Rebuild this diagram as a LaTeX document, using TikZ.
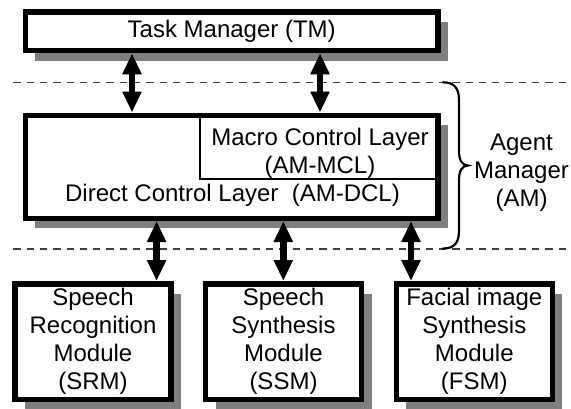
\documentclass[tikz,border=0pt]{standalone}
\usepackage{fontspec}
\setmainfont{Liberation Sans}
\usetikzlibrary{arrows.meta,shadows}
\definecolor{shadowgray}{HTML}{7F7F7F}
\definecolor{dashgray}{HTML}{404040}
\begin{document}
\begin{tikzpicture}[x=1pt,y=-1pt,
  every node/.style={font=\fontsize{24}{28}\selectfont},
  box/.style={draw, line width=5.5pt, fill=white, rectangle, inner sep=0pt,
    outer sep=2.75pt, align=center,
    drop shadow={shadow xshift=10pt, shadow yshift=-10pt, fill=shadowgray, opacity=1}},
  modbox/.style={box, minimum width=156pt, minimum height=115.8pt},
  wide/.style={box, minimum width=412.5pt},
  thinbox/.style={draw, line width=1.8pt, rectangle, inner sep=0pt, outer sep=0pt},
  label/.style={align=center, inner sep=0pt},
  dbl/.style={line width=6.7pt, {Triangle[width=18pt,length=21pt]}-{Triangle[width=18pt,length=21pt]}},
  dashline/.style={draw=dashgray, line width=1.2pt, dash pattern=on 7.3pt off 6pt},
  bracestyle/.style={line width=2.2pt, line cap=round}
]
\useasboundingbox (0,0) rectangle (571,408);

% dashed separators
\coordinate (d1l) at (13.3,82.3);
\coordinate (d1r) at (571,82.3);
\coordinate (d2l) at (13.3,249);
\coordinate (d2r) at (571,249);
\draw[dashline] (d1l) -- (d1r);
\draw[dashline] (d2l) -- (d2r);

% boxes
\node[wide, minimum height=38.5pt] (tm) at (231.7,31.3) {Task Manager (TM)};
\node[wide, minimum height=103pt] (dcl) at (231.7,166.75) {};
\node[thinbox, minimum width=238.3pt, minimum height=64.1pt] (mcl) at (319,147.3) {};
\node[label] (mcltext) at (320,152.8) {Macro Control Layer\\(AM-MCL)};
\node[label, anchor=base] (dcltext) at (232.5,201) {Direct Control Layer\ \ (AM-DCL)};

\node[modbox] (srm) at (93,341.65) {Speech\\Recognition\\Module\\(SRM)};
\node[modbox] (ssm) at (283.5,341.65) {Speech\\Synthesis\\Module\\(SSM)};
\node[modbox] (fsm) at (474.3,341.65) {Facial image\\Synthesis\\Module\\(FSM)};

% arrow columns
\coordinate (a1) at (132,0);
\coordinate (a2) at (320,0);
\coordinate (b1) at (156.6,0);
\coordinate (b2) at (283.3,0);
\coordinate (b3) at (411,0);
\draw[dbl] (tm.south -| a1) -- (dcl.north -| a1);
\draw[dbl] (tm.south -| a2) -- (dcl.north -| a2);
\draw[dbl] (dcl.south -| b1) -- (srm.north -| b1);
\draw[dbl] (dcl.south -| b2) -- (ssm.north -| b2);
\draw[dbl] (dcl.south -| b3) -- (fsm.north -| b3);

% brace and agent manager label
\coordinate (br1) at (443,82.3);
\coordinate (brtip) at (468,165.5);
\coordinate (br2) at (443,248.5);
\draw[bracestyle] (br1) .. controls (454,82.3) and (459,88) .. (459,100)
  -- (459,151) .. controls (459,160) and (462,165.5) .. (brtip)
  .. controls (462,165.5) and (459,171) .. (459,180)
  -- (459,231) .. controls (459,243) and (454,248.5) .. (br2);
\node[label] (am) at (521.5,172.5) {Agent\\Manager\\(AM)};
\end{tikzpicture}
\end{document}
